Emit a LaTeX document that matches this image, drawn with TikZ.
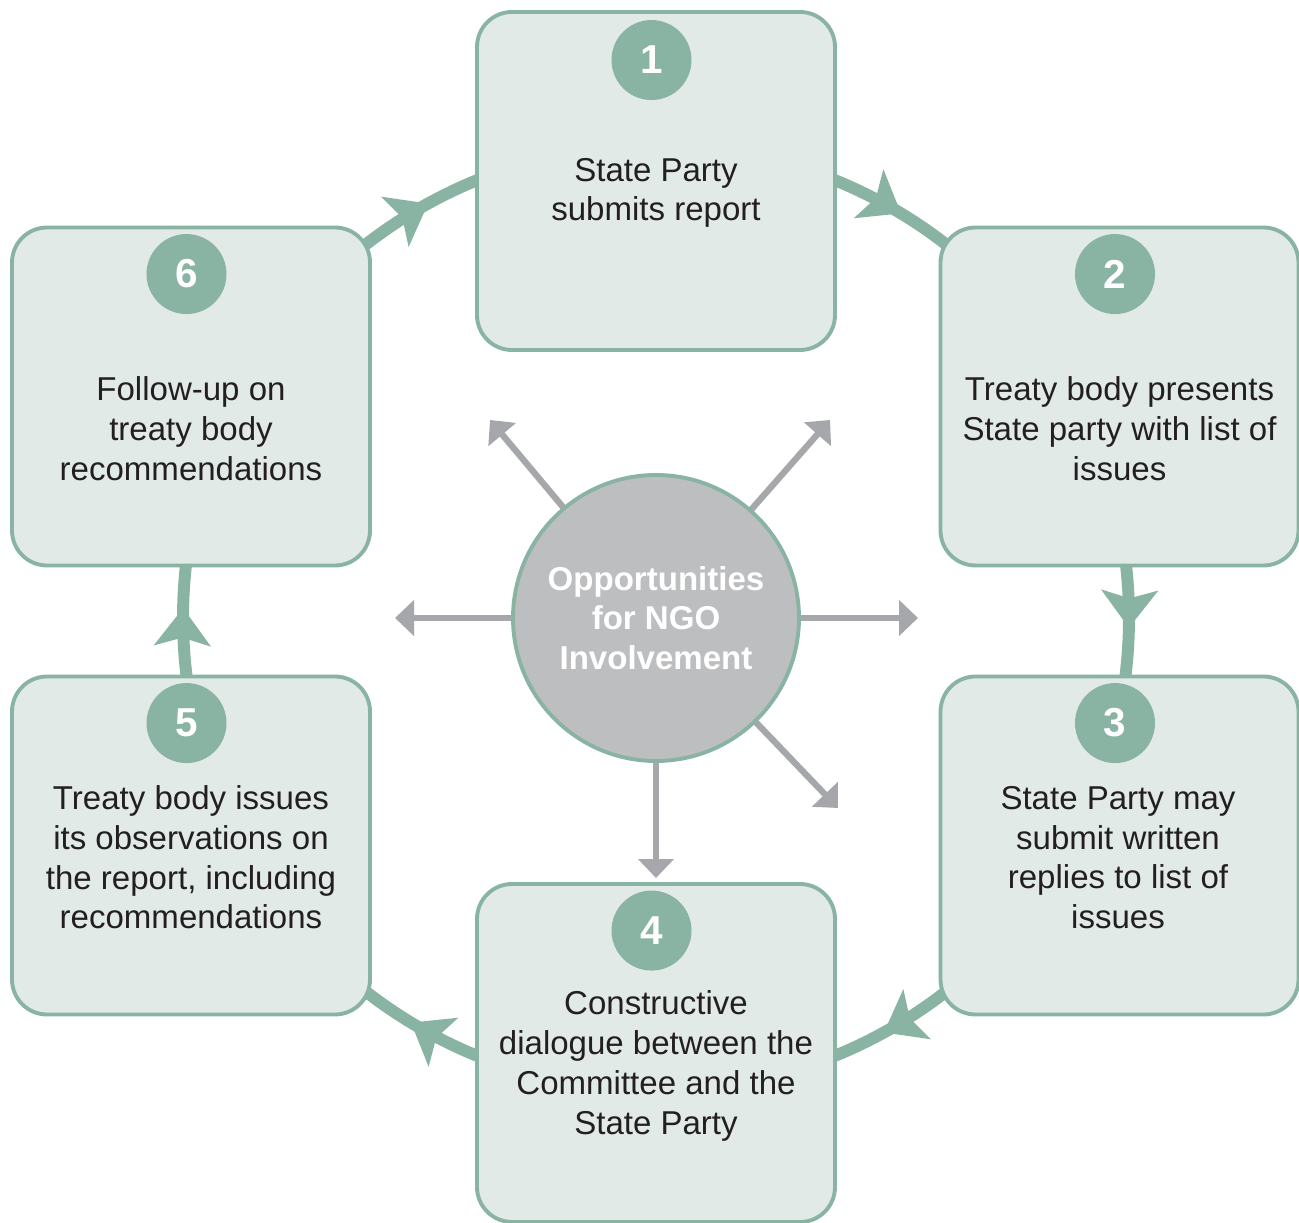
\documentclass[tikz,border=0pt]{standalone}
\usepackage{fontspec}
\setmainfont{Liberation Sans}
\usetikzlibrary{arrows.meta,decorations.markings}
\definecolor{ngogreen}{HTML}{89B3A3}
\definecolor{boxfill}{HTML}{E1EAE6}
\definecolor{hubgray}{HTML}{BDBEC0}
\definecolor{spokegray}{HTML}{A6A7AA}
\definecolor{inkdark}{HTML}{231F20}
\tikzset{
  stagebox/.style={draw=ngogreen, line width=2.2pt, fill=boxfill, rounded corners=0.7cm,
    minimum width=7.16cm, minimum height=6.76cm},
  stagetext/.style={align=center, text=inkdark, font=\fontsize{18.8}{22.6}\selectfont},
  stagenum/.style={circle, fill=ngogreen, minimum size=1.6cm, inner sep=0pt, text=white,
    font=\fontsize{23}{23}\selectfont\bfseries},
  hub/.style={circle, draw=ngogreen, line width=2.2pt, fill=hubgray, minimum size=5.72cm,
    align=center, text=white, font=\fontsize{18.8}{22.6}\selectfont\bfseries},
  spoke/.style={draw=spokegray, line width=3.6pt, -{Triangle[length=0.38cm,width=0.7cm]}},
  ring/.style={draw=ngogreen, line width=6.8pt, postaction={decorate},
    decoration={markings, mark=at position 0.52 with {\arrow{Stealth[length=0.75cm,width=1.12cm,inset=0.16cm]}}}}
}

\begin{document}
\begin{tikzpicture}
  %%%%% START %%%%%
  \useasboundingbox (0,0) rectangle (25.98,24.44);
  \coordinate (mid) at (13.12,12.08);

  % ring of the cycle, under the boxes
  \draw[ring] ([shift={(90:9.46)}]mid) arc (90:30:9.46);
  \draw[ring] ([shift={(30:9.46)}]mid) arc (30:-30:9.46);
  \draw[ring] ([shift={(-30:9.46)}]mid) arc (-30:-90:9.46);
  \draw[ring] ([shift={(-90:9.46)}]mid) arc (-90:-150:9.46);
  \draw[ring] ([shift={(210:9.46)}]mid) arc (210:150:9.46);
  \draw[ring] ([shift={(150:9.46)}]mid) arc (150:90:9.46);

  % stages
  \node[stagebox] (box1) at (13.12,20.82) {};
  \node[stagebox] (box2) at (22.39,16.51) {};
  \node[stagebox] (box3) at (22.39,7.53) {};
  \node[stagebox] (box4) at (13.12,3.38) {};
  \node[stagebox] (box5) at (3.82,7.53) {};
  \node[stagebox] (box6) at (3.82,16.51) {};

  \node[stagenum] (num1) at ([xshift=-0.09cm,yshift=-1.0cm]box1.north) {1};
  \node[stagenum] (num2) at ([xshift=-0.09cm,yshift=-0.97cm]box2.north) {2};
  \node[stagenum] (num3) at ([xshift=-0.09cm,yshift=-0.97cm]box3.north) {3};
  \node[stagenum] (num4) at ([xshift=-0.09cm,yshift=-0.97cm]box4.north) {4};
  \node[stagenum] (num5) at ([xshift=-0.09cm,yshift=-0.97cm]box5.north) {5};
  \node[stagenum] (num6) at ([xshift=-0.09cm,yshift=-0.97cm]box6.north) {6};

  \node[stagetext] (txt1) at ([yshift=-0.24cm]box1.center) {State Party\\submits report};
  \node[stagetext] (txt2) at ([yshift=-0.64cm]box2.center) {Treaty body presents\\State party with list of\\issues};
  \node[stagetext] (txt3) at ([xshift=-0.03cm,yshift=-0.24cm]box3.center) {State Party may\\submit written\\replies to list of\\issues};
  \node[stagetext] (txt4) at ([yshift=-0.26cm]box4.center) {Constructive\\dialogue between the\\Committee and the\\State Party};
  \node[stagetext] (txt5) at ([yshift=-0.24cm]box5.center) {Treaty body issues\\its observations on\\the report, including\\recommendations};
  \node[stagetext] (txt6) at ([yshift=-0.64cm]box6.center) {Follow-up on\\treaty body\\recommendations};

  % hub with its spokes
  \coordinate (tipNW) at (9.8,16.04);
  \coordinate (tipNE) at (16.6,16.04);
  \coordinate (tipW) at (7.9,12.08);
  \coordinate (tipE) at (18.36,12.08);
  \coordinate (tipSE) at (16.76,8.28);
  \coordinate (tipS) at (13.12,6.88);
  \foreach \t in {tipNW,tipNE,tipW,tipE,tipSE,tipS}
    \draw[spoke] (mid) -- (\t);
  \node[hub] (ngo) at (mid) {Opportunities\\for NGO\\Involvement};
  %%%%% END %%%%%
\end{tikzpicture}
\end{document}
